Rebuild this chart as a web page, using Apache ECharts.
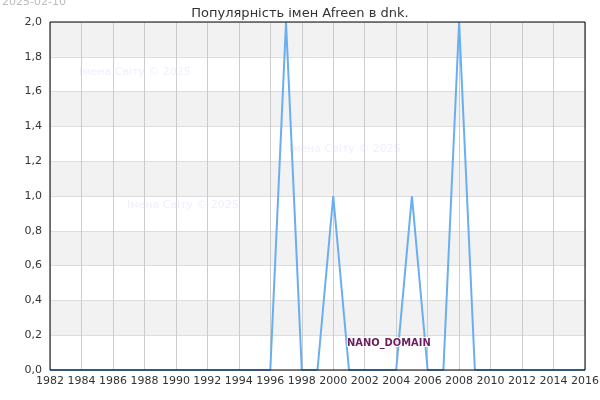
<!DOCTYPE html>
<html><head><meta charset="utf-8">
<script src="https://cdn.jsdelivr.net/npm/echarts@6/dist/echarts.min.js"></script>
<style>html,body{margin:0;padding:0;background:#fff}#c{width:600px;height:400px}</style>
</head><body><div id="c"></div>
<script>
var years = [];
for (var y = 1982; y <= 2016; y++) years.push(y);
var counts = [0,0,0,0,0,0,0,0,0,0,0,0,0,0,0,2,0,0,1,0,0,0,0,1,0,0,2,0,0,0,0,0,0,0,0];
var title = 'Популярність імен Afreen в dnk.';
var dateText = '2025-02-10';
var watermark = 'Імена Світу © 2025';
var domainText = 'NANO_DOMAIN';

var data = years.map(function(y,i){return [y, counts[i]];});
var chart = echarts.init(document.getElementById('c'));
var font = 'DejaVu Sans';
chart.setOption({
  animation:false,
  textStyle:{fontFamily:font},
  title:{text:title,left:'center',top:2,textStyle:{fontFamily:font,fontSize:13,fontWeight:'normal',color:'#333'}},
  grid:{left:50,right:15,top:22,bottom:30,show:true,z:10,borderColor:'#000',borderWidth:1,backgroundColor:'transparent',containLabel:false,outerBoundsMode:'none'},
  xAxis:{type:'value',min:1982,max:2016,interval:2,
    axisLine:{show:false},axisTick:{show:false},
    axisLabel:{color:'#333',fontSize:11,fontFamily:font,margin:6,showMinLabel:true,showMaxLabel:true,hideOverlap:false,
      formatter:function(v){return String(v);}},
    splitLine:{show:true,lineStyle:{color:'#ccc',width:1}}},
  yAxis:{type:'value',min:0,max:2,interval:0.2,
    axisLine:{show:false},axisTick:{show:false},
    axisLabel:{color:'#333',fontSize:11,fontFamily:font,margin:8,formatter:function(v){return v.toFixed(1).replace('.',',');}},
    splitLine:{show:true,lineStyle:{color:'#ddd',width:1}},
    splitArea:{show:true,areaStyle:{color:['#ffffff','#f2f2f2']}}},
  series:[{type:'line',data:data,showSymbol:false,symbol:'none',
    lineStyle:{color:'#6aaef0',width:2},z:3}],
  graphic:[
    {type:'text',left:2,top:-3,style:{text:dateText,fill:'#bbb',font:'11px DejaVu Sans'}},
    {type:'text',left:79,top:67,z:1,style:{text:watermark,fill:'rgba(215,215,250,0.4)',font:'11px DejaVu Sans'}},
    {type:'text',left:127,top:200,z:1,style:{text:watermark,fill:'rgba(215,215,250,0.4)',font:'11px DejaVu Sans'}},
    {type:'text',left:289,top:144,z:1,style:{text:watermark,fill:'rgba(215,215,250,0.4)',font:'11px DejaVu Sans'}},
    {type:'text',left:346,top:337,z:10,style:{text:domainText,fill:'#6b1f5c',stroke:'#fff',lineWidth:2,font:'bold 11px "DejaVu Sans Condensed", "DejaVu Sans"'}}
  ]
});
</script></body></html>
